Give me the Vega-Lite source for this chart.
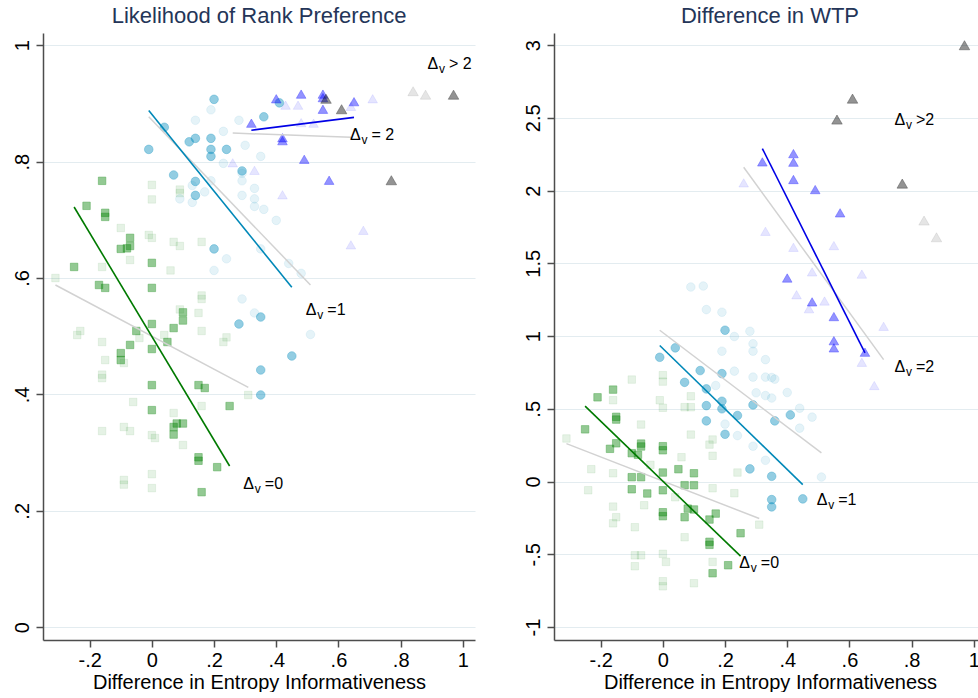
{
  "$schema": "https://vega.github.io/schema/vega-lite/v6.json",
  "padding": {"left": 0, "top": 5, "right": 0, "bottom": 0},
  "spacing": 36,
  "config": {
    "view": {"stroke": null},
    "font": "Liberation Sans",
    "axis": {
      "domainColor": "#4d4d4d", "domainWidth": 1.5,
      "tickColor": "#4d4d4d", "tickWidth": 1.5, "tickSize": 7,
      "labelFont": "Liberation Sans", "labelFontSize": 20, "labelColor": "#000000",
      "labelFlush": false, "labelOverlap": false,
      "titleFont": "Liberation Sans", "titleFontSize": 20, "titleFontWeight": "normal", "titleColor": "#000000",
      "gridColor": "#e3ecf0", "gridWidth": 1.2
    },
    "title": {"font": "Liberation Sans", "fontSize": 22, "fontWeight": "normal", "color": "#243558", "anchor": "middle", "offset": 5}
  },
  "datasets": {
    "pts": [
      {"p":"L","g":"0","s":"l","x":0,"y":0.760},{"p":"L","g":"0","s":"l","x":0,"y":0.735},{"p":"L","g":"0","s":"l","x":0.09,"y":0.752},{"p":"L","g":"0","s":"l","x":0.09,"y":0.746},
      {"p":"L","g":"0","s":"l","x":-0.10,"y":0.686},{"p":"L","g":"0","s":"l","x":-0.01,"y":0.674},{"p":"L","g":"0","s":"l","x":0,"y":0.669},{"p":"L","g":"0","s":"l","x":0.07,"y":0.662},
      {"p":"L","g":"0","s":"l","x":0.09,"y":0.655},{"p":"L","g":"0","s":"l","x":0.16,"y":0.662},{"p":"L","g":"0","s":"l","x":-0.07,"y":0.631},{"p":"L","g":"0","s":"l","x":-0.16,"y":0.619},
      {"p":"L","g":"0","s":"l","x":0.06,"y":0.613},{"p":"L","g":"0","s":"l","x":-0.31,"y":0.600},{"p":"L","g":"0","s":"l","x":0.16,"y":0.570},{"p":"L","g":"0","s":"l","x":0.16,"y":0.564},
      {"p":"L","g":"0","s":"l","x":0.09,"y":0.546},{"p":"L","g":"0","s":"l","x":0.15,"y":0.540},{"p":"L","g":"0","s":"l","x":0.16,"y":0.509},{"p":"L","g":"0","s":"l","x":-0.23,"y":0.509},
      {"p":"L","g":"0","s":"l","x":-0.24,"y":0.502},{"p":"L","g":"0","s":"l","x":-0.16,"y":0.490},{"p":"L","g":"0","s":"l","x":-0.04,"y":0.497},{"p":"L","g":"0","s":"l","x":0.04,"y":0.502},
      {"p":"L","g":"0","s":"l","x":0.24,"y":0.498},{"p":"L","g":"0","s":"l","x":0.23,"y":0.490},{"p":"L","g":"0","s":"l","x":-0.15,"y":0.459},{"p":"L","g":"0","s":"l","x":-0.09,"y":0.454},
      {"p":"L","g":"0","s":"l","x":-0.16,"y":0.434},{"p":"L","g":"0","s":"l","x":-0.16,"y":0.428},{"p":"L","g":"0","s":"l","x":-0.06,"y":0.387},{"p":"L","g":"0","s":"l","x":0.07,"y":0.368},
      {"p":"L","g":"0","s":"l","x":0.16,"y":0.380},{"p":"L","g":"0","s":"l","x":0.31,"y":0.399},{"p":"L","g":"0","s":"l","x":-0.16,"y":0.337},{"p":"L","g":"0","s":"l","x":-0.09,"y":0.344},
      {"p":"L","g":"0","s":"l","x":-0.07,"y":0.337},{"p":"L","g":"0","s":"l","x":0,"y":0.330},{"p":"L","g":"0","s":"l","x":0.01,"y":0.325},{"p":"L","g":"0","s":"l","x":0.10,"y":0.313},
      {"p":"L","g":"0","s":"l","x":0,"y":0.263},{"p":"L","g":"0","s":"l","x":-0.09,"y":0.253},{"p":"L","g":"0","s":"l","x":-0.09,"y":0.245},{"p":"L","g":"0","s":"l","x":0,"y":0.239},

      {"p":"L","g":"1","s":"l","x":0.19,"y":0.889},{"p":"L","g":"1","s":"l","x":0.14,"y":0.871},{"p":"L","g":"1","s":"l","x":0.28,"y":0.871},{"p":"L","g":"1","s":"l","x":0.23,"y":0.852},
      {"p":"L","g":"1","s":"l","x":0.30,"y":0.828},{"p":"L","g":"1","s":"l","x":0.35,"y":0.809},{"p":"L","g":"1","s":"l","x":0.23,"y":0.797},{"p":"L","g":"1","s":"l","x":0.29,"y":0.780},
      {"p":"L","g":"1","s":"l","x":0.29,"y":0.767},{"p":"L","g":"1","s":"l","x":0.19,"y":0.767},{"p":"L","g":"1","s":"l","x":0.13,"y":0.759},{"p":"L","g":"1","s":"l","x":0.17,"y":0.748},
      {"p":"L","g":"1","s":"l","x":0.09,"y":0.736},{"p":"L","g":"1","s":"l","x":0.13,"y":0.730},{"p":"L","g":"1","s":"l","x":0.33,"y":0.754},{"p":"L","g":"1","s":"l","x":0.29,"y":0.742},
      {"p":"L","g":"1","s":"l","x":0.33,"y":0.736},{"p":"L","g":"1","s":"l","x":0.33,"y":0.723},{"p":"L","g":"1","s":"l","x":0.36,"y":0.718},{"p":"L","g":"1","s":"l","x":0.40,"y":0.699},
      {"p":"L","g":"1","s":"l","x":0.35,"y":0.650},{"p":"L","g":"1","s":"l","x":0.24,"y":0.633},{"p":"L","g":"1","s":"l","x":0.20,"y":0.613},{"p":"L","g":"1","s":"l","x":0.44,"y":0.625},
      {"p":"L","g":"1","s":"l","x":0.48,"y":0.608},{"p":"L","g":"1","s":"l","x":0.29,"y":0.564},{"p":"L","g":"1","s":"l","x":0.33,"y":0.540},{"p":"L","g":"1","s":"l","x":0.51,"y":0.503},

      {"p":"L","g":"2","s":"l","x":0.43,"y":0.897},{"p":"L","g":"2","s":"l","x":0.47,"y":0.897},{"p":"L","g":"2","s":"l","x":0.64,"y":0.895},{"p":"L","g":"2","s":"l","x":0.71,"y":0.908},
      {"p":"L","g":"2","s":"l","x":0.48,"y":0.867},{"p":"L","g":"2","s":"l","x":0.52,"y":0.866},{"p":"L","g":"2","s":"l","x":0.26,"y":0.798},{"p":"L","g":"2","s":"l","x":0.33,"y":0.785},
      {"p":"L","g":"2","s":"l","x":0.42,"y":0.743},{"p":"L","g":"2","s":"l","x":0.68,"y":0.682},{"p":"L","g":"2","s":"l","x":0.64,"y":0.657},
      {"p":"L","g":"3","s":"l","x":0.84,"y":0.921},{"p":"L","g":"3","s":"l","x":0.88,"y":0.915},

      {"p":"L","g":"0","s":"s","x":-0.16,"y":0.767},{"p":"L","g":"0","s":"s","x":-0.21,"y":0.724},{"p":"L","g":"0","s":"s","x":-0.15,"y":0.712},{"p":"L","g":"0","s":"s","x":-0.15,"y":0.705},
      {"p":"L","g":"0","s":"s","x":-0.07,"y":0.669},{"p":"L","g":"0","s":"s","x":-0.07,"y":0.655},{"p":"L","g":"0","s":"s","x":-0.08,"y":0.651},{"p":"L","g":"0","s":"s","x":-0.10,"y":0.650},
      {"p":"L","g":"0","s":"s","x":-0.25,"y":0.619},{"p":"L","g":"0","s":"s","x":0,"y":0.626},{"p":"L","g":"0","s":"s","x":-0.17,"y":0.588},{"p":"L","g":"0","s":"s","x":-0.15,"y":0.583},
      {"p":"L","g":"0","s":"s","x":0,"y":0.583},{"p":"L","g":"0","s":"s","x":0.10,"y":0.541},{"p":"L","g":"0","s":"s","x":0.10,"y":0.527},{"p":"L","g":"0","s":"s","x":-0.05,"y":0.509},
      {"p":"L","g":"0","s":"s","x":0,"y":0.521},{"p":"L","g":"0","s":"s","x":0.07,"y":0.514},{"p":"L","g":"0","s":"s","x":0.05,"y":0.490},{"p":"L","g":"0","s":"s","x":-0.07,"y":0.485},
      {"p":"L","g":"0","s":"s","x":0,"y":0.478},{"p":"L","g":"0","s":"s","x":-0.10,"y":0.471},{"p":"L","g":"0","s":"s","x":-0.10,"y":0.459},{"p":"L","g":"0","s":"s","x":0,"y":0.416},
      {"p":"L","g":"0","s":"s","x":0.15,"y":0.416},{"p":"L","g":"0","s":"s","x":0.17,"y":0.411},{"p":"L","g":"0","s":"s","x":0,"y":0.373},{"p":"L","g":"0","s":"s","x":0.25,"y":0.380},
      {"p":"L","g":"0","s":"s","x":0.08,"y":0.350},{"p":"L","g":"0","s":"s","x":0.10,"y":0.350},{"p":"L","g":"0","s":"s","x":0.07,"y":0.344},{"p":"L","g":"0","s":"s","x":0.07,"y":0.331},
      {"p":"L","g":"0","s":"s","x":0.15,"y":0.292},{"p":"L","g":"0","s":"s","x":0.15,"y":0.286},{"p":"L","g":"0","s":"s","x":0.21,"y":0.275},{"p":"L","g":"0","s":"s","x":0.16,"y":0.232},

      {"p":"L","g":"1","s":"s","x":0.20,"y":0.907},{"p":"L","g":"1","s":"s","x":0.36,"y":0.877},{"p":"L","g":"1","s":"s","x":0.04,"y":0.859},{"p":"L","g":"1","s":"s","x":-0.01,"y":0.821},
      {"p":"L","g":"1","s":"s","x":0.12,"y":0.834},{"p":"L","g":"1","s":"s","x":0.14,"y":0.840},{"p":"L","g":"1","s":"s","x":0.19,"y":0.840},{"p":"L","g":"1","s":"s","x":0.19,"y":0.821},
      {"p":"L","g":"1","s":"s","x":0.19,"y":0.809},{"p":"L","g":"1","s":"s","x":0.24,"y":0.821},{"p":"L","g":"1","s":"s","x":0.07,"y":0.777},{"p":"L","g":"1","s":"s","x":0.14,"y":0.766},
      {"p":"L","g":"1","s":"s","x":0.14,"y":0.742},{"p":"L","g":"1","s":"s","x":0.29,"y":0.784},{"p":"L","g":"1","s":"s","x":0.20,"y":0.650},{"p":"L","g":"1","s":"s","x":0.41,"y":0.901},
      {"p":"L","g":"1","s":"s","x":0.28,"y":0.521},{"p":"L","g":"1","s":"s","x":0.35,"y":0.533},{"p":"L","g":"1","s":"s","x":0.45,"y":0.466},{"p":"L","g":"1","s":"s","x":0.35,"y":0.442},
      {"p":"L","g":"1","s":"s","x":0.35,"y":0.399},

      {"p":"L","g":"2","s":"s","x":0.40,"y":0.908},{"p":"L","g":"2","s":"s","x":0.48,"y":0.916},{"p":"L","g":"2","s":"s","x":0.55,"y":0.916},{"p":"L","g":"2","s":"s","x":0.55,"y":0.910},
      {"p":"L","g":"2","s":"s","x":0.55,"y":0.890},{"p":"L","g":"2","s":"s","x":0.65,"y":0.903},{"p":"L","g":"2","s":"s","x":0.32,"y":0.866},{"p":"L","g":"2","s":"s","x":0.42,"y":0.841},
      {"p":"L","g":"2","s":"s","x":0.42,"y":0.836},{"p":"L","g":"2","s":"s","x":0.49,"y":0.804},{"p":"L","g":"2","s":"s","x":0.57,"y":0.768},
      {"p":"L","g":"3","s":"s","x":0.56,"y":0.908},{"p":"L","g":"3","s":"s","x":0.61,"y":0.890},{"p":"L","g":"3","s":"s","x":0.77,"y":0.768},{"p":"L","g":"3","s":"s","x":0.97,"y":0.915},

      {"p":"R","g":"0","s":"l","x":-0.10,"y":0.701},{"p":"R","g":"0","s":"l","x":0,"y":0.731},{"p":"R","g":"0","s":"l","x":0,"y":0.687},{"p":"R","g":"0","s":"l","x":-0.01,"y":0.559},
      {"p":"R","g":"0","s":"l","x":0,"y":0.507},{"p":"R","g":"0","s":"l","x":-0.16,"y":0.559},{"p":"R","g":"0","s":"l","x":0.07,"y":0.511},{"p":"R","g":"0","s":"l","x":0.09,"y":0.511},
      {"p":"R","g":"0","s":"l","x":0.09,"y":0.586},{"p":"R","g":"0","s":"l","x":-0.07,"y":0.392},{"p":"R","g":"0","s":"l","x":-0.31,"y":0.296},{"p":"R","g":"0","s":"l","x":0.09,"y":0.323},
      {"p":"R","g":"0","s":"l","x":0.16,"y":0.289},{"p":"R","g":"0","s":"l","x":0.15,"y":0.254},{"p":"R","g":"0","s":"l","x":0.16,"y":0.177},{"p":"R","g":"0","s":"l","x":0.06,"y":0.167},
      {"p":"R","g":"0","s":"l","x":-0.04,"y":0.115},{"p":"R","g":"0","s":"l","x":-0.23,"y":0.085},{"p":"R","g":"0","s":"l","x":-0.16,"y":0.057},{"p":"R","g":"0","s":"l","x":0.24,"y":0.062},
      {"p":"R","g":"0","s":"l","x":-0.24,"y":-0.060},{"p":"R","g":"0","s":"l","x":0.04,"y":-0.108},{"p":"R","g":"0","s":"l","x":0.16,"y":-0.046},{"p":"R","g":"0","s":"l","x":0.23,"y":-0.080},
      {"p":"R","g":"0","s":"l","x":-0.06,"y":-0.163},{"p":"R","g":"0","s":"l","x":-0.16,"y":-0.172},{"p":"R","g":"0","s":"l","x":-0.15,"y":-0.245},{"p":"R","g":"0","s":"l","x":-0.16,"y":-0.287},
      {"p":"R","g":"0","s":"l","x":-0.09,"y":-0.314},{"p":"R","g":"0","s":"l","x":0.07,"y":-0.383},{"p":"R","g":"0","s":"l","x":-0.09,"y":-0.507},{"p":"R","g":"0","s":"l","x":-0.07,"y":-0.507},
      {"p":"R","g":"0","s":"l","x":-0.09,"y":-0.582},{"p":"R","g":"0","s":"l","x":0,"y":-0.497},{"p":"R","g":"0","s":"l","x":0.01,"y":-0.552},{"p":"R","g":"0","s":"l","x":0.16,"y":-0.552},
      {"p":"R","g":"0","s":"l","x":0,"y":-0.685},{"p":"R","g":"0","s":"l","x":0,"y":-0.720},{"p":"R","g":"0","s":"l","x":0.10,"y":-0.699},{"p":"R","g":"0","s":"l","x":0.31,"y":-0.296},

      {"p":"R","g":"1","s":"l","x":0.09,"y":1.337},{"p":"R","g":"1","s":"l","x":0.13,"y":1.344},{"p":"R","g":"1","s":"l","x":0.14,"y":1.182},{"p":"R","g":"1","s":"l","x":0.19,"y":1.164},
      {"p":"R","g":"1","s":"l","x":0.28,"y":1.033},{"p":"R","g":"1","s":"l","x":0.23,"y":0.997},{"p":"R","g":"1","s":"l","x":0.29,"y":0.947},{"p":"R","g":"1","s":"l","x":0.29,"y":0.896},
      {"p":"R","g":"1","s":"l","x":0.19,"y":0.896},{"p":"R","g":"1","s":"l","x":0.33,"y":0.838},{"p":"R","g":"1","s":"l","x":0.23,"y":0.759},{"p":"R","g":"1","s":"l","x":0.29,"y":0.718},
      {"p":"R","g":"1","s":"l","x":0.33,"y":0.718},{"p":"R","g":"1","s":"l","x":0.35,"y":0.715},{"p":"R","g":"1","s":"l","x":0.36,"y":0.704},{"p":"R","g":"1","s":"l","x":0.17,"y":0.660},
      {"p":"R","g":"1","s":"l","x":0.30,"y":0.610},{"p":"R","g":"1","s":"l","x":0.33,"y":0.591},{"p":"R","g":"1","s":"l","x":0.35,"y":0.574},{"p":"R","g":"1","s":"l","x":0.40,"y":0.612},
      {"p":"R","g":"1","s":"l","x":0.44,"y":0.504},{"p":"R","g":"1","s":"l","x":0.48,"y":0.443},{"p":"R","g":"1","s":"l","x":0.44,"y":0.367},{"p":"R","g":"1","s":"l","x":0.20,"y":0.395},
      {"p":"R","g":"1","s":"l","x":0.24,"y":0.316},{"p":"R","g":"1","s":"l","x":0.29,"y":0.243},{"p":"R","g":"1","s":"l","x":0.33,"y":0.146},{"p":"R","g":"1","s":"l","x":0.51,"y":0.031},

      {"p":"R","g":"2","s":"l","x":0.26,"y":2.053},{"p":"R","g":"2","s":"l","x":0.33,"y":1.720},{"p":"R","g":"2","s":"l","x":0.42,"y":1.610},{"p":"R","g":"2","s":"l","x":0.55,"y":1.622},
      {"p":"R","g":"2","s":"l","x":0.48,"y":1.441},{"p":"R","g":"2","s":"l","x":0.64,"y":1.426},{"p":"R","g":"2","s":"l","x":0.43,"y":1.284},{"p":"R","g":"2","s":"l","x":0.52,"y":1.241},
      {"p":"R","g":"2","s":"l","x":0.47,"y":1.188},{"p":"R","g":"2","s":"l","x":0.71,"y":1.067},{"p":"R","g":"2","s":"l","x":0.64,"y":0.820},{"p":"R","g":"2","s":"l","x":0.68,"y":0.660},
      {"p":"R","g":"3","s":"l","x":0.84,"y":1.794},{"p":"R","g":"3","s":"l","x":0.88,"y":1.679},

      {"p":"R","g":"0","s":"s","x":-0.21,"y":0.579},{"p":"R","g":"0","s":"s","x":-0.16,"y":0.632},{"p":"R","g":"0","s":"s","x":-0.15,"y":0.445},{"p":"R","g":"0","s":"s","x":-0.15,"y":0.426},
      {"p":"R","g":"0","s":"s","x":-0.25,"y":0.359},{"p":"R","g":"0","s":"s","x":-0.15,"y":0.263},{"p":"R","g":"0","s":"s","x":-0.17,"y":0.225},{"p":"R","g":"0","s":"s","x":-0.07,"y":0.261},
      {"p":"R","g":"0","s":"s","x":-0.07,"y":0.241},{"p":"R","g":"0","s":"s","x":-0.10,"y":0.195},{"p":"R","g":"0","s":"s","x":-0.08,"y":0.184},{"p":"R","g":"0","s":"s","x":0,"y":0.243},
      {"p":"R","g":"0","s":"s","x":0,"y":0.215},{"p":"R","g":"0","s":"s","x":-0.10,"y":0.030},{"p":"R","g":"0","s":"s","x":-0.07,"y":0.030},{"p":"R","g":"0","s":"s","x":-0.10,"y":-0.053},
      {"p":"R","g":"0","s":"s","x":-0.05,"y":-0.082},{"p":"R","g":"0","s":"s","x":0,"y":0.062},{"p":"R","g":"0","s":"s","x":0,"y":-0.060},{"p":"R","g":"0","s":"s","x":0.05,"y":0.085},
      {"p":"R","g":"0","s":"s","x":0.10,"y":0.057},{"p":"R","g":"0","s":"s","x":0.07,"y":-0.025},{"p":"R","g":"0","s":"s","x":0.10,"y":-0.025},{"p":"R","g":"0","s":"s","x":0,"y":-0.211},
      {"p":"R","g":"0","s":"s","x":0,"y":-0.238},{"p":"R","g":"0","s":"s","x":0.08,"y":-0.186},{"p":"R","g":"0","s":"s","x":0.10,"y":-0.192},{"p":"R","g":"0","s":"s","x":0.07,"y":-0.245},
      {"p":"R","g":"0","s":"s","x":0.17,"y":-0.220},{"p":"R","g":"0","s":"s","x":0.15,"y":-0.261},{"p":"R","g":"0","s":"s","x":0.25,"y":-0.355},{"p":"R","g":"0","s":"s","x":0.15,"y":-0.414},
      {"p":"R","g":"0","s":"s","x":0.15,"y":-0.435},{"p":"R","g":"0","s":"s","x":0.21,"y":-0.575},{"p":"R","g":"0","s":"s","x":0.16,"y":-0.630},

      {"p":"R","g":"1","s":"s","x":0.20,"y":1.040},{"p":"R","g":"1","s":"s","x":0.04,"y":0.919},{"p":"R","g":"1","s":"s","x":-0.01,"y":0.854},{"p":"R","g":"1","s":"s","x":0.12,"y":0.763},
      {"p":"R","g":"1","s":"s","x":0.19,"y":0.742},{"p":"R","g":"1","s":"s","x":0.07,"y":0.682},{"p":"R","g":"1","s":"s","x":0.14,"y":0.637},{"p":"R","g":"1","s":"s","x":0.19,"y":0.552},
      {"p":"R","g":"1","s":"s","x":0.19,"y":0.500},{"p":"R","g":"1","s":"s","x":0.14,"y":0.522},{"p":"R","g":"1","s":"s","x":0.24,"y":0.454},{"p":"R","g":"1","s":"s","x":0.29,"y":0.527},
      {"p":"R","g":"1","s":"s","x":0.41,"y":0.458},{"p":"R","g":"1","s":"s","x":0.36,"y":0.417},{"p":"R","g":"1","s":"s","x":0.14,"y":0.417},{"p":"R","g":"1","s":"s","x":0.20,"y":0.325},
      {"p":"R","g":"1","s":"s","x":0.28,"y":0.087},{"p":"R","g":"1","s":"s","x":0.35,"y":0.036},{"p":"R","g":"1","s":"s","x":0.35,"y":-0.124},{"p":"R","g":"1","s":"s","x":0.35,"y":-0.174},
      {"p":"R","g":"1","s":"s","x":0.45,"y":-0.119},

      {"p":"R","g":"2","s":"s","x":0.42,"y":2.254},{"p":"R","g":"2","s":"s","x":0.42,"y":2.195},{"p":"R","g":"2","s":"s","x":0.32,"y":2.197},{"p":"R","g":"2","s":"s","x":0.42,"y":2.076},
      {"p":"R","g":"2","s":"s","x":0.49,"y":2.007},{"p":"R","g":"2","s":"s","x":0.57,"y":1.847},{"p":"R","g":"2","s":"s","x":0.40,"y":1.399},{"p":"R","g":"2","s":"s","x":0.48,"y":1.235},
      {"p":"R","g":"2","s":"s","x":0.55,"y":1.134},{"p":"R","g":"2","s":"s","x":0.55,"y":0.968},{"p":"R","g":"2","s":"s","x":0.55,"y":0.919},{"p":"R","g":"2","s":"s","x":0.65,"y":0.889},
      {"p":"R","g":"3","s":"s","x":0.97,"y":2.999},{"p":"R","g":"3","s":"s","x":0.61,"y":2.632},{"p":"R","g":"3","s":"s","x":0.56,"y":2.488},{"p":"R","g":"3","s":"s","x":0.77,"y":2.048}
    ],
    "fits": [
      {"p":"L","g":"0","s":"s","x":-0.25,"y":0.722},{"p":"L","g":"0","s":"s","x":0.25,"y":0.277},
      {"p":"L","g":"0","s":"l","x":-0.31,"y":0.588},{"p":"L","g":"0","s":"l","x":0.31,"y":0.412},
      {"p":"L","g":"1","s":"s","x":-0.01,"y":0.888},{"p":"L","g":"1","s":"s","x":0.45,"y":0.584},
      {"p":"L","g":"1","s":"l","x":-0.01,"y":0.877},{"p":"L","g":"1","s":"l","x":0.51,"y":0.588},
      {"p":"L","g":"2","s":"s","x":0.32,"y":0.854},{"p":"L","g":"2","s":"s","x":0.65,"y":0.876},
      {"p":"L","g":"2","s":"l","x":0.26,"y":0.849},{"p":"L","g":"2","s":"l","x":0.64,"y":0.842},
      {"p":"R","g":"0","s":"s","x":-0.25,"y":0.518},{"p":"R","g":"0","s":"s","x":0.25,"y":-0.513},
      {"p":"R","g":"0","s":"l","x":-0.31,"y":0.261},{"p":"R","g":"0","s":"l","x":0.31,"y":-0.254},
      {"p":"R","g":"1","s":"s","x":-0.01,"y":0.935},{"p":"R","g":"1","s":"s","x":0.45,"y":-0.021},
      {"p":"R","g":"1","s":"l","x":-0.01,"y":1.040},{"p":"R","g":"1","s":"l","x":0.51,"y":0.197},
      {"p":"R","g":"2","s":"s","x":0.32,"y":2.289},{"p":"R","g":"2","s":"s","x":0.65,"y":0.884},
      {"p":"R","g":"2","s":"l","x":0.26,"y":2.160},{"p":"R","g":"2","s":"l","x":0.71,"y":0.838}
    ],
    "labs": [
      {"p":"L","x":0.886,"y":0.959,"t":"> 2"},{"p":"L","x":0.637,"y":0.837,"t":"= 2"},
      {"p":"L","x":0.495,"y":0.536,"t":"=1"},{"p":"L","x":0.294,"y":0.238,"t":"=0"},
      {"p":"R","x":0.745,"y":2.449,"t":">2"},{"p":"R","x":0.745,"y":0.754,"t":"=2"},
      {"p":"R","x":0.495,"y":-0.158,"t":"=1"},{"p":"R","x":0.246,"y":-0.593,"t":"=0"}
    ]
  },
  "hconcat": [
    {
      "width": 432, "height": 607,
      "title": {"text": "Likelihood of Rank Preference"},
      "encoding": {
        "x": {"field": "x", "type": "quantitative",
              "scale": {"domain": [-0.35, 1.039], "nice": false, "zero": false},
              "axis": {"values": [-0.2, 0, 0.2, 0.4, 0.6, 0.8, 1], "grid": false, "labelPadding": 3, "titlePadding": 2,
                       "title": "Difference in Entropy Informativeness",
                       "labelExpr": "(datum.value < 0 ? '-' : '') + replace(format(abs(datum.value), '~g'), '0.', '.')"}},
        "y": {"field": "y", "type": "quantitative",
              "scale": {"domain": [-0.022, 1.021], "nice": false, "zero": false},
              "axis": {"values": [0, 0.2, 0.4, 0.6, 0.8, 1], "grid": true, "title": null,
                       "labelAngle": -90, "labelAlign": "center", "labelBaseline": "bottom", "labelPadding": 4,
                       "minExtent": 43, "maxExtent": 43,
                       "labelExpr": "(datum.value < 0 ? '-' : '') + replace(format(abs(datum.value), '~g'), '0.', '.')"}}
      },
      "layer": [
        {
          "data": {"name": "pts"},
          "transform": [{"filter": "datum.p == 'L'"}],
          "mark": {"type": "point", "filled": true, "strokeWidth": 0.8},
          "encoding": {
            "shape": {"field": "g", "type": "nominal", "legend": null, "scale": {"domain": ["0","1","2","3"], "range": ["square","circle","triangle-up","triangle-up"]}},
            "fill": {"field": "g", "type": "nominal", "legend": null, "scale": {"domain": ["0","1","2","3"], "range": ["#008000","#008bbc","#0000ff","#000000"]}},
            "stroke": {"field": "g", "type": "nominal", "legend": null, "scale": {"domain": ["0","1","2","3"], "range": ["#008000","#008bbc","#0000ff","#000000"]}},
            "size": {"field": "g", "type": "nominal", "legend": null, "scale": {"domain": ["0","1","2","3"], "range": [56, 110, 95, 95]}},
            "fillOpacity": {"field": "s", "type": "nominal", "legend": null, "scale": {"domain": ["l","s"], "range": [0.14, 0.6]}},
            "strokeOpacity": {"field": "s", "type": "nominal", "legend": null, "scale": {"domain": ["l","s"], "range": [0.14, 0.6]}}
          }
        },
        {
          "data": {"name": "fits"},
          "transform": [{"filter": "datum.p == 'L' && datum.s == 'l'"}],
          "mark": {"type": "line", "color": "#d2d2d2", "strokeWidth": 1.5},
          "encoding": {"detail": {"field": "g", "type": "nominal"}}
        },
        {
          "data": {"name": "fits"},
          "transform": [{"filter": "datum.p == 'L' && datum.s == 's'"}],
          "mark": {"type": "line", "strokeWidth": 1.6},
          "encoding": {"color": {"field": "g", "type": "nominal", "legend": null, "scale": {"domain": ["0","1","2"], "range": ["#007a00","#0088b8","#0000e6"]}}}
        },
        {
          "data": {"name": "labs"},
          "transform": [{"filter": "datum.p == 'L'"}],
          "mark": {"type": "text", "text": "Δ", "align": "left", "baseline": "alphabetic", "fontSize": 16, "color": "#000000"},
          "encoding": {}
        },
        {
          "data": {"name": "labs"},
          "transform": [{"filter": "datum.p == 'L'"}],
          "mark": {"type": "text", "text": "v", "align": "left", "baseline": "alphabetic", "fontSize": 12, "dx": 11.5, "dy": 4, "color": "#000000"},
          "encoding": {}
        },
        {
          "data": {"name": "labs"},
          "transform": [{"filter": "datum.p == 'L'"}],
          "mark": {"type": "text", "align": "left", "baseline": "alphabetic", "fontSize": 16, "dx": 21.5, "color": "#000000"},
          "encoding": {"text": {"field": "t"}}
        }
      ]
    },
    {
      "width": 424, "height": 607,
      "title": {"text": "Difference in WTP", "dx": 4},
      "encoding": {
        "x": {"field": "x", "type": "quantitative",
              "scale": {"domain": [-0.35, 1.0135], "nice": false, "zero": false},
              "axis": {"values": [-0.2, 0, 0.2, 0.4, 0.6, 0.8, 1], "grid": false, "labelPadding": 3, "titlePadding": 2,
                       "title": "Difference in Entropy Informativeness", "titleX": 216,
                       "labelExpr": "(datum.value < 0 ? '-' : '') + replace(format(abs(datum.value), '~g'), '0.', '.')"}},
        "y": {"field": "y", "type": "quantitative",
              "scale": {"domain": [-1.089, 3.083], "nice": false, "zero": false},
              "axis": {"values": [-1, -0.5, 0, 0.5, 1, 1.5, 2, 2.5, 3], "grid": true, "title": null,
                       "labelAngle": -90, "labelAlign": "center", "labelBaseline": "bottom", "labelPadding": 4,
                       "minExtent": 43, "maxExtent": 43,
                       "labelExpr": "(datum.value < 0 ? '-' : '') + replace(format(abs(datum.value), '~g'), '0.', '.')"}}
      },
      "layer": [
        {
          "data": {"name": "pts"},
          "transform": [{"filter": "datum.p == 'R'"}],
          "mark": {"type": "point", "filled": true, "strokeWidth": 0.8},
          "encoding": {
            "shape": {"field": "g", "type": "nominal", "legend": null, "scale": {"domain": ["0","1","2","3"], "range": ["square","circle","triangle-up","triangle-up"]}},
            "fill": {"field": "g", "type": "nominal", "legend": null, "scale": {"domain": ["0","1","2","3"], "range": ["#008000","#008bbc","#0000ff","#000000"]}},
            "stroke": {"field": "g", "type": "nominal", "legend": null, "scale": {"domain": ["0","1","2","3"], "range": ["#008000","#008bbc","#0000ff","#000000"]}},
            "size": {"field": "g", "type": "nominal", "legend": null, "scale": {"domain": ["0","1","2","3"], "range": [56, 110, 95, 95]}},
            "fillOpacity": {"field": "s", "type": "nominal", "legend": null, "scale": {"domain": ["l","s"], "range": [0.14, 0.6]}},
            "strokeOpacity": {"field": "s", "type": "nominal", "legend": null, "scale": {"domain": ["l","s"], "range": [0.14, 0.6]}}
          }
        },
        {
          "data": {"name": "fits"},
          "transform": [{"filter": "datum.p == 'R' && datum.s == 'l'"}],
          "mark": {"type": "line", "color": "#d2d2d2", "strokeWidth": 1.5},
          "encoding": {"detail": {"field": "g", "type": "nominal"}}
        },
        {
          "data": {"name": "fits"},
          "transform": [{"filter": "datum.p == 'R' && datum.s == 's'"}],
          "mark": {"type": "line", "strokeWidth": 1.6},
          "encoding": {"color": {"field": "g", "type": "nominal", "legend": null, "scale": {"domain": ["0","1","2"], "range": ["#007a00","#0088b8","#0000e6"]}}}
        },
        {
          "data": {"name": "labs"},
          "transform": [{"filter": "datum.p == 'R'"}],
          "mark": {"type": "text", "text": "Δ", "align": "left", "baseline": "alphabetic", "fontSize": 16, "color": "#000000"},
          "encoding": {}
        },
        {
          "data": {"name": "labs"},
          "transform": [{"filter": "datum.p == 'R'"}],
          "mark": {"type": "text", "text": "v", "align": "left", "baseline": "alphabetic", "fontSize": 12, "dx": 11.5, "dy": 4, "color": "#000000"},
          "encoding": {}
        },
        {
          "data": {"name": "labs"},
          "transform": [{"filter": "datum.p == 'R'"}],
          "mark": {"type": "text", "align": "left", "baseline": "alphabetic", "fontSize": 16, "dx": 21.5, "color": "#000000"},
          "encoding": {"text": {"field": "t"}}
        }
      ]
    }
  ]
}
